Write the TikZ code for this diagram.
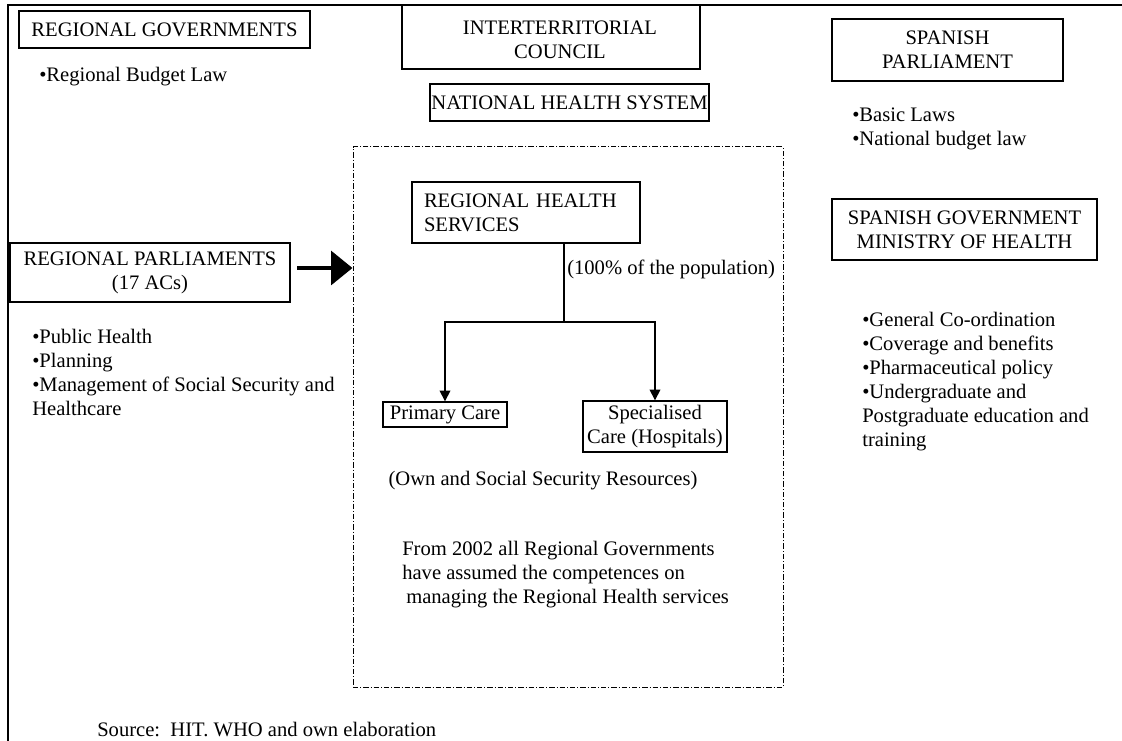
\documentclass[tikz,border=0pt]{standalone}
\usepackage{fontspec}
\setmainfont{Liberation Serif}
\usetikzlibrary{arrows.meta}
\begin{document}
\begin{tikzpicture}[x=0.75pt,y=-0.75pt,
  font=\fontsize{15.45pt}{18pt}\selectfont,
  box/.style={draw,line width=1pt,inner sep=1pt,align=center},
  txt/.style={inner sep=0pt,anchor=base west,align=left},
  conn/.style={line width=1pt,-{Triangle[length=8pt,width=8pt]}},
  bigarrow/.style={line width=3.5pt,-{Triangle[length=16pt,width=25pt]}},
  dashdot/.style={draw,line width=0.75pt,dash pattern=on 4pt off 1.5pt on 0.75pt off 1.5pt}
]
\useasboundingbox (0,0) rectangle (1122,741);
% frame
\draw[line width=1.5pt] (8,741) -- (8,5) -- (1122,5);

% boxes
\node[box,minimum width=218.25pt,minimum height=27.75pt] (rg) at (164.5,29.5) {REGIONAL GOVERNMENTS};
\node[box,minimum width=223.5pt,minimum height=48pt] (ic) at (551,37) {};
\node[align=center,inner sep=0pt] (ict) at (560,40) {INTERTERRITORIAL\\COUNCIL};
\node[box,minimum width=207.75pt,minimum height=27.75pt] (nhs) at (569.5,102.5) {NATIONAL HEALTH SYSTEM};
\node[box,minimum width=173.25pt,minimum height=46.5pt] (sp) at (947.5,50) {SPANISH\\PARLIAMENT};
\node[box,minimum width=198.75pt,minimum height=45.75pt] (sg) at (964.5,229.5) {SPANISH GOVERNMENT\\MINISTRY OF HEALTH};
\node[box,minimum width=210pt,minimum height=44.25pt] (rp) at (150,272.5) {REGIONAL PARLIAMENTS\\(17 ACs)};
\node[dashdot,minimum width=322.5pt,minimum height=405pt,inner sep=0pt] (dbox) at (568,417) {};
\node[draw,line width=1pt,text width=153pt,inner xsep=9pt,inner ysep=1pt,align=left,minimum height=45.75pt] (rhs) at (526,212.5) {REGIONAL HEALTH\\SERVICES};
\node[box,minimum width=93pt,minimum height=18.75pt] (pc) at (445,414.5) {Primary Care};
\node[box,minimum width=108pt,minimum height=38.25pt] (sc) at (655,426.5) {Specialised\\Care (Hospitals)};

% connectors
\coordinate (j) at (564,322);
\draw[line width=1pt] (rhs.south -| j) -- (j);
\draw[conn] (j) -| (pc.north);
\draw[conn] (j) -| (sc.north);
\coordinate (ta) at (297,268);
\draw[bigarrow] (ta) -- (ta -| dbox.west);

% texts (base anchor = baseline of the last line)
\node[txt] (rbl) at (39,82) {•Regional Budget Law};
\node[txt] (spl) at (852,146) {•Basic Laws\\•National budget law};
\node[txt] (rpl) at (32,416) {•Public Health\\•Planning\\•Management of Social Security and\\Healthcare};
\node[txt] (sgl) at (862,447) {•General Co-ordination\\•Coverage and benefits\\•Pharmaceutical policy\\•Undergraduate and\\Postgraduate education and\\training};
\node[txt] (pop) at (567,275) {(100\% of the population)};
\node[inner sep=0pt,anchor=base] (res) at (543,486) {(Own and Social Security Resources)};
\node[txt] (note) at (402,604) {From 2002 all Regional Governments\\have assumed the competences on\\\hspace*{3pt}managing the Regional Health services};
\node[txt] (src) at (97,736) {Source:\ \ HIT. WHO and own elaboration};
\end{tikzpicture}
\end{document}
